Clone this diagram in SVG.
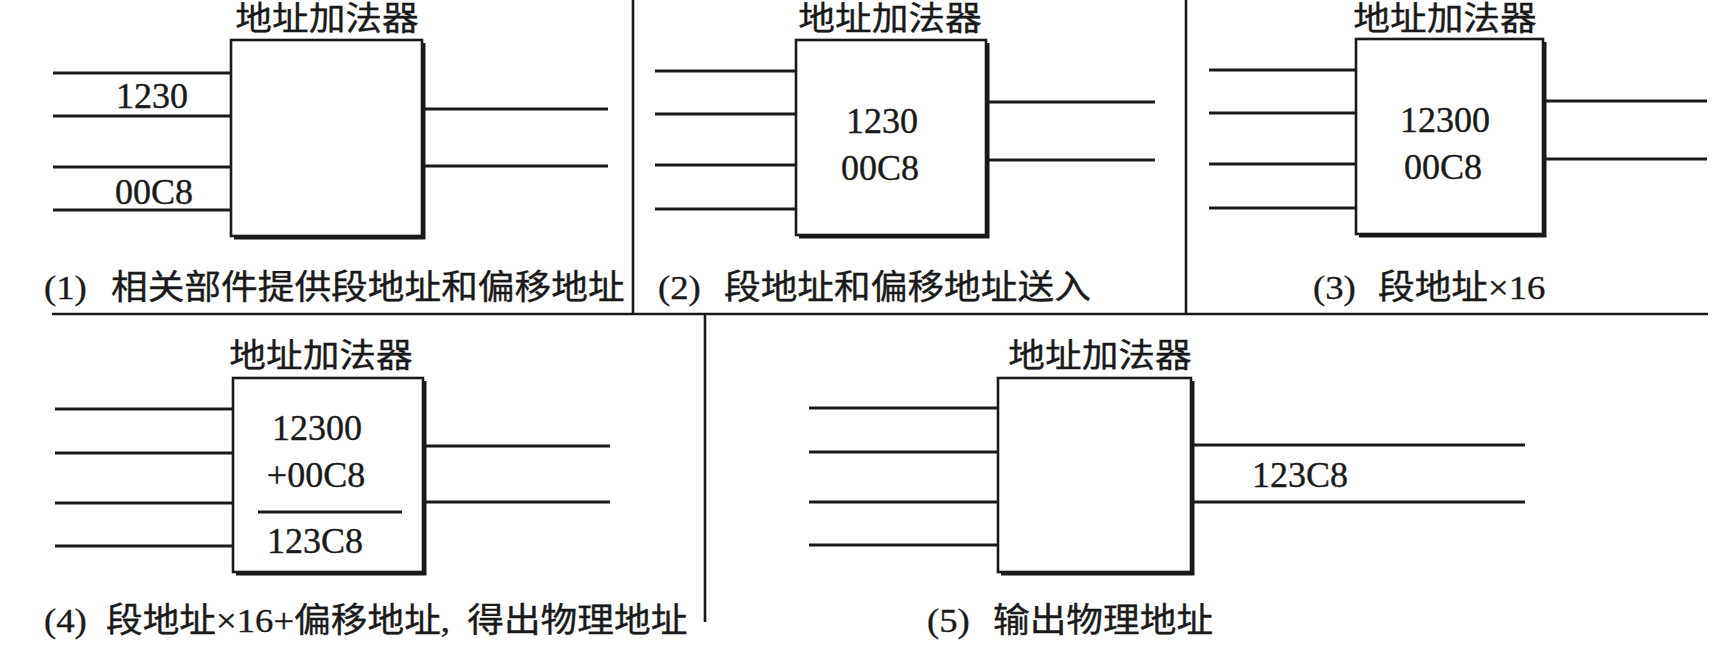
<svg xmlns="http://www.w3.org/2000/svg" width="1733" height="664" viewBox="0 0 1733 664">
<style>
.bg{fill:#ffffff}
.box{fill:#ffffff;stroke:#1a1a1a;stroke-width:2.6}
.sh{fill:none;stroke:#1a1a1a;stroke-width:3}
.ln{stroke:#1a1a1a;stroke-width:2.8;fill:none}
.div{stroke:#1a1a1a;stroke-width:2.6;fill:none}
.t{font-family:"Liberation Serif","Noto Sans CJK SC",serif;font-size:36.7px;fill:#1a1a1a;stroke:#1a1a1a;stroke-width:0.4}
.n{font-family:"Liberation Serif",serif;font-size:36px;fill:#1a1a1a;stroke:#1a1a1a;stroke-width:0.4}
.m{text-anchor:middle}
</style>
<rect class="bg" x="0" y="0" width="1733" height="664"/>

<g id="dividers">
<line class="div" x1="633" y1="0" x2="633" y2="314"/>
<line class="div" x1="1186" y1="0" x2="1186" y2="314"/>
<line class="div" x1="52" y1="314" x2="1708" y2="314"/>
<line class="div" x1="705" y1="314" x2="705" y2="622"/>
</g>

<g id="connectors">
<!-- panel 1 -->
<line class="ln" x1="53" y1="73" x2="231" y2="73"/>
<line class="ln" x1="53" y1="116" x2="231" y2="116"/>
<line class="ln" x1="53" y1="167" x2="231" y2="167"/>
<line class="ln" x1="53" y1="210" x2="231" y2="210"/>
<line class="ln" x1="422" y1="109" x2="608" y2="109"/>
<line class="ln" x1="422" y1="166" x2="608" y2="166"/>
<!-- panel 2 -->
<line class="ln" x1="655" y1="71" x2="796" y2="71"/>
<line class="ln" x1="655" y1="114" x2="796" y2="114"/>
<line class="ln" x1="655" y1="165" x2="796" y2="165"/>
<line class="ln" x1="655" y1="209" x2="796" y2="209"/>
<line class="ln" x1="986" y1="102" x2="1155" y2="102"/>
<line class="ln" x1="986" y1="160" x2="1155" y2="160"/>
<!-- panel 3 -->
<line class="ln" x1="1209" y1="70" x2="1356" y2="70"/>
<line class="ln" x1="1209" y1="113" x2="1356" y2="113"/>
<line class="ln" x1="1209" y1="164" x2="1356" y2="164"/>
<line class="ln" x1="1209" y1="208" x2="1356" y2="208"/>
<line class="ln" x1="1543" y1="101" x2="1707" y2="101"/>
<line class="ln" x1="1543" y1="159" x2="1707" y2="159"/>
<!-- panel 4 -->
<line class="ln" x1="55" y1="409" x2="233" y2="409"/>
<line class="ln" x1="55" y1="453" x2="233" y2="453"/>
<line class="ln" x1="55" y1="503" x2="233" y2="503"/>
<line class="ln" x1="55" y1="546" x2="233" y2="546"/>
<line class="ln" x1="423" y1="446" x2="610" y2="446"/>
<line class="ln" x1="423" y1="502" x2="610" y2="502"/>
<!-- panel 5 -->
<line class="ln" x1="809" y1="408" x2="998" y2="408"/>
<line class="ln" x1="809" y1="452" x2="998" y2="452"/>
<line class="ln" x1="809" y1="502" x2="998" y2="502"/>
<line class="ln" x1="809" y1="545" x2="998" y2="545"/>
<line class="ln" x1="1191" y1="445" x2="1525" y2="445"/>
<line class="ln" x1="1191" y1="502" x2="1525" y2="502"/>
</g>

<g id="panel1">
<text class="t m" transform="translate(327 30) scale(1 .9)">地址加法器</text>
<rect class="box" x="231" y="40" width="191" height="196"/>
<path class="sh" d="M424 43V238H234"/>
<text class="n m" x="152" y="108">1230</text>
<text class="n m" x="154" y="204">00C8</text>
<text class="t" transform="translate(44 299) scale(1 .92)"><tspan x="0">(1)</tspan><tspan x="67">相关部件提供段地址和偏移地址</tspan></text>
</g>

<g id="panel2">
<text class="t m" transform="translate(890 30) scale(1 .9)">地址加法器</text>
<rect class="box" x="796" y="40" width="190" height="195"/>
<path class="sh" d="M988 43V237H799"/>
<text class="n m" x="882" y="133">1230</text>
<text class="n m" x="880" y="180">00C8</text>
<text class="t" transform="translate(658 299) scale(1 .92)"><tspan x="0">(2)</tspan><tspan x="66">段地址和偏移地址送入</tspan></text>
</g>

<g id="panel3">
<text class="t m" transform="translate(1445 30) scale(1 .9)">地址加法器</text>
<rect class="box" x="1356" y="39" width="187" height="195"/>
<path class="sh" d="M1545 42V236H1359"/>
<text class="n m" x="1445" y="132">12300</text>
<text class="n m" x="1443" y="179">00C8</text>
<text class="t" transform="translate(1313 299) scale(1 .92)"><tspan x="0">(3)</tspan><tspan x="65">段地址×16</tspan></text>
</g>

<g id="panel4">
<text class="t m" transform="translate(321 367) scale(1 .9)">地址加法器</text>
<rect class="box" x="233" y="378" width="190" height="194"/>
<path class="sh" d="M425 381V574H236"/>
<text class="n m" x="317" y="440">12300</text>
<text class="n m" x="316" y="487">+00C8</text>
<line class="ln" x1="258" y1="512" x2="402" y2="512"/>
<text class="n m" x="315" y="553">123C8</text>
<text class="t" transform="translate(44 632) scale(1 .92)"><tspan x="0">(4)</tspan><tspan x="62">段地址×16+偏移地址, </tspan><tspan dx="8">得出物理地址</tspan></text>
</g>

<g id="panel5">
<text class="t m" transform="translate(1100 367) scale(1 .9)">地址加法器</text>
<rect class="box" x="998" y="378" width="193" height="194"/>
<path class="sh" d="M1193 381V574H1001"/>
<text class="n" x="1252" y="487">123C8</text>
<text class="t" transform="translate(927 632) scale(1 .92)"><tspan x="0">(5)</tspan><tspan x="66">输出物理地址</tspan></text>
</g>
</svg>
